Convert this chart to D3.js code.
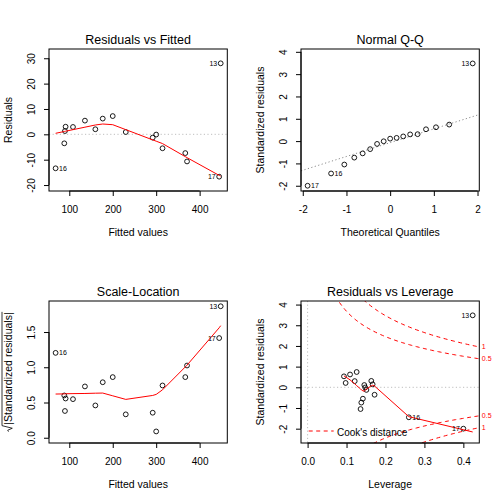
<!DOCTYPE html>
<html><head><meta charset="utf-8">
<script src="https://cdn.jsdelivr.net/npm/d3@7"></script>
<style>body{margin:0;background:#fff} text{font-family:"Liberation Sans",Arial,Helvetica,sans-serif}</style>
</head><body><svg id="c" width="504" height="504"></svg>
<script>
// ---- data (one entry per observation) ----
const obsId    = [16, 1, 2, 3, 4, 5, 6, 7, 8, 9, 10, 11, 12, 14, 15, 17, 13];
const fitted   = [68.5, 88.5, 90, 91.5, 108.5, 136, 160, 177, 200, 230, 292, 300, 314.6, 367, 371, 445, 448.5];
const resid    = [-13.4, -3.55, 1.3, 3.0, 2.9, 5.4, 2.0, 6.2, 7.2, 0.9, -1.3, -0.1, -5.5, -7.4, -10.7, -16.7, 28.0];
const stdResid = [-1.45, -0.36, 0.144, 0.31, 0.30, 0.53, 0.21, 0.62, 0.74, 0.11, -0.126, -0.008, -0.55, -0.74, -1.05, -2.0, 3.48];
const leverage = [0.260, 0.172, 0.167, 0.1636, 0.121, 0.0934, 0.0977, 0.109, 0.126, 0.1456, 0.151, 0.148, 0.142, 0.138, 0.136, 0.400, 0.424];
const labelledIds = [13, 16, 17];

// Normal Q-Q theoretical quantiles (n = 17)
const qqTheoretical = [-1.8895, -1.3517, -1.0491, -0.8208, -0.6289, -0.4578, -0.2993, -0.1481, 0, 0.1481, 0.2993, 0.4578, 0.6289, 0.8208, 1.0491, 1.3517, 1.8895];
const qqIntercept = -0.07, qqSlope = 0.618;

// smoother lines
const smoothRFx = fitted;
const smoothRFy = [0.4, 1.12, 1.17, 1.23, 1.83, 2.82, 3.68, 4.07, 3.8, 1.85, -2.2, -2.7, -3.65, -8.8, -9.2, -16.2, -16.5];
const smoothSLx = fitted;
const smoothSLy = [0.62, 0.622, 0.623, 0.624, 0.626, 0.628, 0.632, 0.634, 0.595, 0.544, 0.60, 0.615, 0.68, 1.005, 1.03, 1.56, 1.59];
const smoothRLx = [0.0934, 0.0977, 0.109, 0.121, 0.126, 0.136, 0.138, 0.142, 0.1456, 0.148, 0.151, 0.1636, 0.167, 0.172, 0.260, 0.400, 0.424];
const smoothRLy = [0.55, 0.50, 0.36, 0.17, 0.08, -0.08, -0.12, -0.17, -0.19, -0.14, -0.08, 0.07, 0.10, 0.06, -1.42, -2.05, -2.16];

const cookLevels = [0.5, 1];
const nParams = 3;

// tick labels
const xTicksFitted = [100, 200, 300, 400];
const yTicksResid = [-20, -10, 0, 10, 20, 30];
const xTicksQQ = [-2, -1, 0, 1, 2];
const yTicksStd = [-2, -1, 0, 1, 2, 3, 4];
const yTicksSL = [0, 0.5, 1.0, 1.5];
const xTicksLev = [0, 0.1, 0.2, 0.3, 0.4];

const titles = ["Residuals vs Fitted", "Normal Q-Q", "Scale-Location", "Residuals vs Leverage"];

// ---- drawing ----
const svg = d3.select('#c');
svg.append('rect').attr('width', 504).attr('height', 504).attr('fill', '#fff');
const BL = 49, BR = 227.3, BT = 49, BB = 191, CX = (BL + BR) / 2, CY = (BT + BB) / 2;
const FONT = '"Liberation Sans",Arial,Helvetica,sans-serif';

function ext(a, f) { const lo = d3.min(a), hi = d3.max(a), d = hi - lo; return [lo - f * d, hi + f * d]; }
const intFmt = d => String(d);
const decFmt = d => d.toFixed(1);

function panel(ox, oy, idx, o) {
  const g = svg.append('g').attr('transform', `translate(${ox},${oy})`);
  const x = d3.scaleLinear().domain(ext(o.xr, 0.04)).range([BL, BR]);
  const y = d3.scaleLinear().domain(ext(o.yr, 0.04)).range([BB, BT]);
  g.append('clipPath').attr('id', 'clip' + idx).append('rect')
    .attr('x', BL).attr('y', BT).attr('width', BR - BL).attr('height', BB - BT);
  const plot = g.append('g').attr('clip-path', `url(#clip${idx})`);

  // x axis
  const ax = g.append('g').attr('transform', `translate(0,${BB})`)
    .call(d3.axisBottom(x).tickValues(o.xt).tickFormat(o.xf).tickSize(5).tickPadding(10).tickSizeOuter(0));
  ax.attr('font-family', FONT).attr('font-size', 10);
  ax.select('.domain').remove();
  ax.append('line').attr('x1', x(o.xt[0])).attr('x2', x(o.xt[o.xt.length - 1])).attr('stroke', '#000');
  // y axis
  const ay = g.append('g').attr('transform', `translate(${BL},0)`)
    .call(d3.axisLeft(y).tickValues(o.yt).tickFormat(o.yf).tickSize(5).tickSizeOuter(0));
  ay.attr('font-family', FONT).attr('font-size', 10);
  ay.select('.domain').remove();
  ay.append('line').attr('y1', y(o.yt[0])).attr('y2', y(o.yt[o.yt.length - 1])).attr('stroke', '#000');
  ay.selectAll('text').attr('x', 0).attr('dy', 0).attr('text-anchor', 'middle')
    .attr('transform', 'translate(-14,0) rotate(-90)');

  // box
  g.append('rect').attr('x', BL).attr('y', BT).attr('width', BR - BL).attr('height', BB - BT)
    .attr('fill', 'none').attr('stroke', '#000').attr('stroke-width', 1);

  // title & axis titles
  g.append('text').attr('x', CX).attr('y', 43.7).attr('text-anchor', 'middle').attr('font-size', 12.5).text(o.title);
  g.append('text').attr('x', CX).attr('y', 235.7).attr('text-anchor', 'middle').attr('font-size', 10.5).text(o.xlab);
  const yt = g.append('g').attr('transform', `translate(12,${CY}) rotate(-90)`);
  if (o.sqrtLab) {
    const tx = yt.append('text').attr('text-anchor', 'middle').attr('font-size', 10.5).text(o.ylab);
    const w = tx.node().getComputedTextLength();
    tx.attr('x', 3.5);
    const x0 = -w / 2 + 3.5 - 1, top = -10;
    yt.append('path').attr('d', `M${x0 - 6},-3.5 L${x0 - 4.6},-4.3 L${x0 - 2.6},0.3 L${x0},${top} L${x0 + w + 1.5},${top}`)
      .attr('fill', 'none').attr('stroke', '#000').attr('stroke-width', 0.8);
  } else {
    yt.append('text').attr('text-anchor', 'middle').attr('font-size', 10.5).text(o.ylab);
  }
  return { g, plot, x, y };
}

function drawPoints(P, xs, ys) {
  P.plot.append('g').selectAll('circle').data(xs.map((v, i) => [v, ys[i]])).join('circle')
    .attr('cx', d => P.x(d[0])).attr('cy', d => P.y(d[1])).attr('r', 2.4)
    .attr('fill', 'none').attr('stroke', '#000').attr('stroke-width', 0.9);
}
function drawLabels(P, xs, ys, ids) {
  const pts = ids.map((id, i) => ({ id, x: xs[i], y: ys[i] })).filter(d => labelledIds.includes(d.id));
  const mid = d3.mean(d3.extent(pts, d => d.x));
  P.g.append('g').selectAll('text').data(pts).join('text')
    .attr('x', d => P.x(d.x) + (d.x > mid ? -3.5 : 3.5)).attr('y', d => P.y(d.y)).attr('dy', '0.35em')
    .attr('text-anchor', d => d.x > mid ? 'end' : 'start').attr('font-size', 7).text(d => d.id);
}
function drawLine(P, xs, ys, color, dash, width) {
  const ln = d3.line().x(d => P.x(d[0])).y(d => P.y(d[1]));
  P.plot.append('path').datum(xs.map((v, i) => [v, ys[i]])).attr('d', ln)
    .attr('fill', 'none').attr('stroke', color).attr('stroke-width', width || 1)
    .attr('stroke-dasharray', dash || null);
}
function hLine(P, v) {
  P.plot.append('line').attr('x1', BL).attr('x2', BR).attr('y1', P.y(v)).attr('y2', P.y(v))
    .attr('stroke', '#bebebe').attr('stroke-dasharray', '1.2,2.4');
}

// Panel 1: Residuals vs Fitted
const p1 = panel(0, 0, 1, { xr: fitted, yr: ext(resid, 0.08), xt: xTicksFitted, yt: yTicksResid, xf: intFmt, yf: intFmt,
  title: titles[0], xlab: "Fitted values", ylab: "Residuals" });
hLine(p1, 0);
drawPoints(p1, fitted, resid);
drawLine(p1, smoothRFx, smoothRFy, 'red');
drawLabels(p1, fitted, resid, obsId);

// Panel 2: Normal Q-Q
const order = d3.range(stdResid.length).sort((a, b) => stdResid[a] - stdResid[b]);
const qqY = order.map(i => stdResid[i]);
const qqIds = order.map(i => obsId[i]);
const rsR = d3.extent(stdResid); rsR[1] = rsR[1] + (rsR[1] - rsR[0]) * 0.075;
const p2 = panel(252, 0, 2, { xr: qqTheoretical, yr: rsR, xt: xTicksQQ, yt: yTicksStd, xf: intFmt, yf: intFmt,
  title: titles[1], xlab: "Theoretical Quantiles", ylab: "Standardized residuals" });
{
  const xd = p2.x.domain();
  p2.plot.append('line').attr('x1', p2.x(xd[0])).attr('x2', p2.x(xd[1]))
    .attr('y1', p2.y(qqIntercept + qqSlope * xd[0])).attr('y2', p2.y(qqIntercept + qqSlope * xd[1]))
    .attr('stroke', '#8c8c8c').attr('stroke-dasharray', '1.2,2.4');
}
drawPoints(p2, qqTheoretical, qqY);
drawLabels(p2, qqTheoretical, qqY, qqIds);

// Panel 3: Scale-Location
const sqrtAbs = stdResid.map(v => Math.sqrt(Math.abs(v)));
const p3 = panel(0, 252, 3, { xr: fitted, yr: [0, d3.max(sqrtAbs)], xt: xTicksFitted, yt: yTicksSL, xf: intFmt, yf: decFmt,
  title: titles[2], xlab: "Fitted values", ylab: "|Standardized residuals|", sqrtLab: true });
drawPoints(p3, fitted, sqrtAbs);
drawLine(p3, smoothSLx, smoothSLy, 'red');
drawLabels(p3, fitted, sqrtAbs, obsId);

// Panel 4: Residuals vs Leverage
const p4 = panel(252, 252, 4, { xr: [0, d3.max(leverage)], yr: ext(stdResid, 0.08), xt: xTicksLev, yt: yTicksStd, xf: decFmt, yf: intFmt,
  title: titles[3], xlab: "Leverage", ylab: "Standardized residuals" });
hLine(p4, 0);
p4.plot.append('line').attr('x1', p4.x(0)).attr('x2', p4.x(0)).attr('y1', BT).attr('y2', BB)
  .attr('stroke', '#bebebe').attr('stroke-dasharray', '1.2,2.4');
drawPoints(p4, leverage, stdResid);
drawLine(p4, smoothRLx, smoothRLy, 'red');
{
  const xmax = p4.x.domain()[1];
  const h0 = Math.min(d3.min(leverage), d3.max(leverage) / 100);
  const hh = d3.range(101).map(i => h0 + i * (xmax - h0) / 100);
  cookLevels.forEach(lv => {
    [1, -1].forEach(s => {
      drawLine(p4, hh, hh.map(h => s * Math.sqrt(lv * nParams * (1 - h) / h)), 'red', '4,3.5');
      p4.g.append('text').attr('x', BR + 2.5).attr('y', p4.y(s * Math.sqrt(lv * nParams * (1 - xmax) / xmax)))
        .attr('dy', '0.35em').attr('font-size', 7).attr('fill', 'red').text(String(lv));
    });
  });
  p4.g.append('line').attr('x1', 56.7).attr('x2', 81.7).attr('y1', 179).attr('y2', 179)
    .attr('stroke', 'red').attr('stroke-dasharray', '4,3.5');
  p4.g.append('text').attr('x', 85).attr('y', 183.5).attr('font-size', 10).text("Cook's distance");
}
drawLabels(p4, leverage, stdResid, obsId);
</script>
</body></html>
